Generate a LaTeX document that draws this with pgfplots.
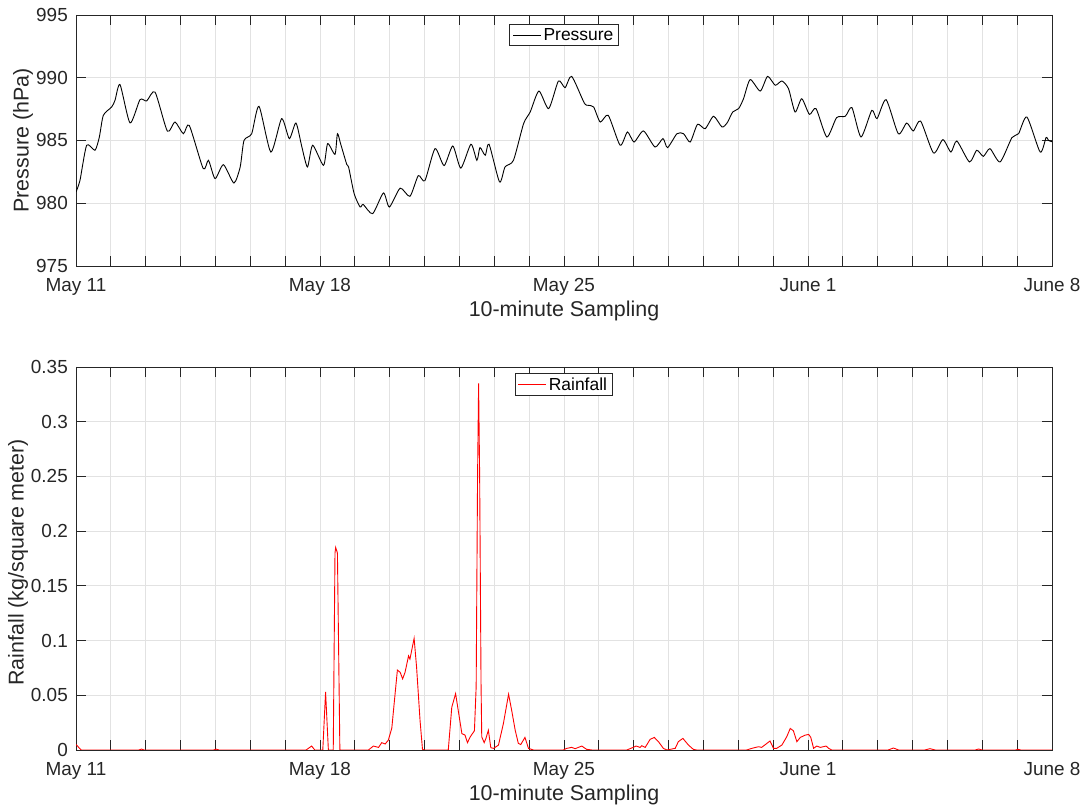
\documentclass[border=0pt]{standalone}
\usepackage{fontspec}
\setmainfont{Liberation Sans}
\usepackage{pgfplots}
\pgfplotsset{compat=1.18}
\definecolor{axgray}{HTML}{262626}
\definecolor{gridgray}{HTML}{E2E2E2}

\pgfplotstableread{
day p
0 980.9
0.115 981.83
0.306 984.62
0.545 984.22
0.67 985.28
0.784 987.0
1.023 987.67
1.119 988.2
1.263 989.45
1.55 986.4
1.836 988.25
2.028 988.15
2.267 988.86
2.62 985.75
2.84 986.47
3.08 985.54
3.25 986.2
3.65 982.76
3.80 983.42
3.99 981.96
4.23 983.07
4.53 981.61
4.71 982.89
4.82 985.0
5.04 985.54
5.25 987.72
5.59 984.08
5.90 986.74
6.12 985.15
6.31 986.39
6.48 984.48
6.64 982.89
6.79 984.62
7.10 983.02
7.22 984.75
7.43 983.9
7.50 985.54
7.59 984.75
7.77 983.07
7.82 982.89
7.98 980.76
8.15 979.7
8.24 979.9
8.51 979.17
8.82 980.82
8.99 979.7
9.30 981.2
9.58 980.55
9.82 982.2
10.01 981.8
10.30 984.35
10.56 983.0
10.81 984.56
11.04 982.8
11.33 984.7
11.50 983.42
11.59 984.43
11.74 983.82
11.85 984.7
12.15 981.7
12.31 982.9
12.55 983.42
12.84 986.34
13.03 987.27
13.28 988.94
13.56 987.54
13.84 989.74
14.03 989.21
14.22 990.11
14.58 987.99
14.70 987.8
14.85 987.67
15.04 986.47
15.27 987.0
15.61 984.62
15.82 985.68
16.01 984.88
16.28 985.76
16.61 984.48
16.84 985.15
16.97 984.43
17.24 985.54
17.43 985.54
17.62 984.88
17.83 986.29
18.05 985.94
18.29 986.93
18.53 986.08
18.68 986.4
18.84 987.27
19.01 987.54
19.15 988.33
19.34 989.85
19.63 988.94
19.84 990.11
20.06 989.4
20.25 989.74
20.44 989.13
20.63 987.27
20.82 988.33
21.04 987.08
21.23 987.54
21.54 985.28
21.82 986.82
22.07 986.93
22.26 987.62
22.52 985.28
22.83 987.40
22.98 986.74
23.24 988.25
23.59 985.54
23.83 986.39
24.02 985.76
24.23 986.55
24.60 984.0
24.87 985.07
25.10 984.08
25.27 984.96
25.63 983.29
25.84 984.22
26.03 983.74
26.22 984.35
26.51 983.29
26.85 985.23
27.04 985.54
27.28 986.87
27.66 984.08
27.83 985.23
27.90 985.0
28.0 984.9
}\pressure

\pgfplotstableread{
day r
0 0.005
0.06 0.003
0.15 0
1.8 0
1.88 0.0008
1.96 0
3.95 0
4.02 0.0008
4.1 0
6.6 0
6.76 0.0036
6.85 0
7.08 0
7.16 0.053
7.24 0
7.38 0
7.43 0.18
7.45 0.185
7.50 0.18
7.57 0
8.39 0
8.53 0.0036
8.68 0.0024
8.77 0.0067
8.87 0.0055
8.96 0.009
9.06 0.02
9.15 0.05
9.22 0.073
9.30 0.071
9.37 0.065
9.44 0.071
9.54 0.086
9.58 0.083
9.70 0.102
9.77 0.076
9.87 0.027
9.94 0.0006
10.0 0
10.68 0
10.78 0.039
10.89 0.0515
11.07 0.015
11.16 0.0136
11.23 0.0067
11.31 0.012
11.43 0.0176
11.48 0.058
11.52 0.25
11.55 0.335
11.58 0.25
11.62 0.06
11.64 0.012
11.71 0.0067
11.76 0.0106
11.83 0.018
11.90 0.0021
11.98 0.0015
12.12 0.0045
12.26 0.024
12.41 0.051
12.50 0.036
12.60 0.018
12.69 0.006
12.76 0.005
12.88 0.0115
12.98 0.0015
13.12 0
13.98 0
14.08 0.0015
14.22 0.0024
14.32 0.0012
14.51 0.0036
14.65 0.0006
14.8 0
15.80 0
15.94 0.0018
16.07 0.0036
16.18 0.0024
16.23 0.0039
16.33 0.0024
16.47 0.0097
16.59 0.0115
16.71 0.0076
16.85 0.0015
16.95 0
17.19 0.0015
17.28 0.0076
17.41 0.0106
17.57 0.0045
17.71 0.0006
17.8 0
19.24 0
19.39 0.0015
19.58 0.003
19.67 0.0024
19.91 0.0082
20.01 0.0015
20.10 0.0015
20.25 0.0045
20.39 0.0121
20.49 0.0197
20.58 0.0176
20.68 0.0076
20.78 0.0115
20.92 0.0136
21.02 0.0142
21.08 0.0115
21.16 0.0015
21.25 0.0036
21.35 0.0024
21.44 0.003
21.52 0.0036
21.59 0.0015
21.68 0
23.3 0
23.45 0.0018
23.6 0
24.35 0
24.50 0.0012
24.65 0
25.8 0
25.89 0.0009
26.0 0
26.95 0
27.03 0.0006
27.1 0
28 0
}\rain

\pgfplotsset{
  myaxis/.style={
    scale only axis,
    width=976bp,
    xmin=0, xmax=28,
    xtick={0,1,...,28},
    xticklabels={May 11,,,,,,,May 18,,,,,,,May 25,,,,,,,June 1,,,,,,,June 8},
    tick align=inside,
    major tick length=10bp,
    axis line style={axgray, line width=0.8bp},
    tick style={axgray, line width=0.8bp},
    grid=major,
    major grid style={gridgray, line width=0.8bp},
    tick label style={font=\fontsize{19}{21}\selectfont, text=axgray},
    xticklabel style={anchor=base, yshift=-26bp},
    yticklabel style={anchor=east, inner sep=0pt, xshift=-8bp},
    every axis x label/.style={at={(axis description cs:0.5,0)}, anchor=center, yshift=-45bp,
      font=\fontsize{21.5}{23}\selectfont, text=axgray},
    legend style={anchor=north, draw=axgray, line width=0.8bp, fill=white,
      font=\fontsize{17.5}{19}\selectfont, inner xsep=3bp, inner ysep=2bp,
      cells={anchor=west, text=black}},
    legend image code/.code={\draw[#1, line width=0.9bp] (0bp,0bp) -- (28bp,0bp);},
  }
}

\begin{document}
\begin{tikzpicture}[x=1bp,y=1bp]
\useasboundingbox (0,0) rectangle (1087,807);
\begin{axis}[myaxis,
  at={(76bp,541bp)}, anchor=south west,
  height=251bp,
  ymin=975, ymax=995,
  ytick={975,980,985,990,995},
  yticklabels={975,980,985,990,995},
  xlabel={10-minute Sampling},
  ylabel={Pressure (hPa)},
  every axis y label/.style={at={(axis description cs:-0.0543,0.5)}, anchor=center, rotate=90,
    font=\fontsize{21.5}{23}\selectfont, text=axgray},
  legend style={at={(axis description cs:0.5,0.964)}},
]
\addplot[black, line width=0.9bp, smooth, tension=0.4] table[x=day, y=p] {\pressure};
\addlegendentry{Pressure}
\end{axis}

\begin{axis}[myaxis,
  at={(76bp,57bp)}, anchor=south west,
  height=383bp,
  ymin=0, ymax=0.35,
  ytick={0,0.05,0.1,0.15,0.2,0.25,0.3,0.35},
  yticklabels={0,0.05,0.1,0.15,0.2,0.25,0.3,0.35},
  xlabel={10-minute Sampling},
  ylabel={Rainfall (kg/square meter)},
  every axis y label/.style={at={(axis description cs:-0.0594,0.49)}, anchor=center, rotate=90,
    font=\fontsize{21.5}{23}\selectfont, text=axgray},
  legend style={at={(axis description cs:0.4995,0.984)}},
]
\addplot[red, line width=0.9bp] table[x=day, y=r] {\rain};
\addlegendentry{Rainfall}
\end{axis}
\end{tikzpicture}
\end{document}
